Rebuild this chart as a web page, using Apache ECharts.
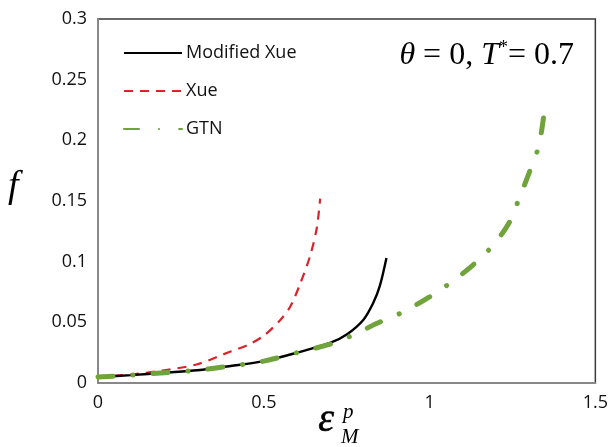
<!DOCTYPE html>
<html><head><meta charset="utf-8">
<script src="https://cdn.jsdelivr.net/npm/echarts@6/dist/echarts.min.js"></script>
<style>html,body{margin:0;padding:0;background:#fff}#c{width:611px;height:447px}</style>
</head><body><div id="c"></div>
<script>
const modXueX = [0,0.1,0.2,0.3,0.4,0.5,0.6,0.7,0.75,0.8,0.83,0.85,0.87];
const modXueY = [0.005,0.0065,0.0085,0.0105,0.014,0.018,0.025,0.033,0.040,0.052,0.066,0.08,0.103];
const xueX = [0,0.1,0.2,0.3,0.4,0.45,0.5,0.55,0.58,0.61,0.64,0.66,0.67];
const xueY = [0.005,0.007,0.0105,0.0155,0.026,0.031,0.039,0.052,0.063,0.082,0.105,0.128,0.152];
const gtnX = [0,0.1,0.2,0.3,0.4,0.5,0.6,0.7,0.77,0.84,0.92,1.0,1.06,1.13,1.19,1.24,1.27,1.3,1.33,1.347];
const gtnY = [0.005,0.0065,0.0085,0.0105,0.014,0.018,0.025,0.032,0.0396,0.049,0.0585,0.071,0.082,0.097,0.113,0.132,0.152,0.173,0.196,0.226];
const xTicks = ['0','0.5','1','1.5'];
const yTicks = ['0','0.05','0.1','0.15','0.2','0.25','0.3'];
const seriesNames = ['Modified Xue','Xue','GTN'];

const zip = (xs, ys) => xs.map((x, i) => [x, ys[i]]);
const font = '"Open Sans", Lato, sans-serif';
const serif = '"Liberation Serif", "DejaVu Serif", serif';
const chart = echarts.init(document.getElementById('c'), null, {renderer:'canvas'});
chart.setOption({
  animation: false,
  grid: {left: 98, right: 14, top: 19, bottom: 64, show: true, borderColor: '#3a3a3a', borderWidth: 1.5},
  legend: {
    left: 118, top: 39, orient: 'vertical', itemWidth: 58, itemHeight: 20, itemGap: 20,
    data: seriesNames,
    itemStyle: {opacity: 0},
    textStyle: {fontFamily: font, fontSize: 18, color: '#111', padding: [0,0,0,-1]}
  },
  xAxis: {
    type: 'value', min: 0, max: 1.5, interval: 0.5,
    axisLine: {show: true, lineStyle: {color: '#888', width: 2}},
    axisTick: {show: false}, splitLine: {show: false},
    axisLabel: {fontFamily: font, fontSize: 18, color: '#111', margin: 11,
      formatter: v => xTicks[Math.round(v / 0.5)]}
  },
  yAxis: {
    type: 'value', min: 0, max: 0.3, interval: 0.05,
    axisLine: {show: true, lineStyle: {color: '#888', width: 2}},
    axisTick: {show: false}, splitLine: {show: false},
    axisLabel: {fontFamily: font, fontSize: 18, color: '#111', margin: 11,
      formatter: v => yTicks[Math.round(v / 0.05)]}
  },
  series: [
    {name: seriesNames[0], type: 'line', data: zip(modXueX, modXueY), smooth: 0.3, symbol: 'none',
      lineStyle: {color: '#000', width: 2.4}, itemStyle: {color: '#000'}, z: 3},
    {name: seriesNames[1], type: 'line', data: zip(xueX, xueY), smooth: 0.3, symbol: 'none',
      lineStyle: {color: '#d9232a', width: 2.2, type: [9, 7]}, itemStyle: {color: '#d9232a'}, z: 2},
    {name: seriesNames[2], type: 'line', data: zip(gtnX, gtnY), smooth: 0.3, symbol: 'none',
      lineStyle: {color: '#70a33b', width: 5, type: [15, 20, 0.1, 20], cap: 'round'}, itemStyle: {color: '#70a33b'}, z: 4}
  ],
  graphic: [
    {type: 'text', right: 37, top: 39, style: {
      text: '{i|θ}{n| = 0, }{i|T}{s|*}{n|= 0.7}',
      rich: {
        i: {fontFamily: serif, fontStyle: 'italic', fontSize: 32, fill: '#000'},
        n: {fontFamily: serif, fontSize: 32, fill: '#000'},
        s: {fontFamily: serif, fontSize: 18, fill: '#000', verticalAlign: 'top', padding: [0,0,16,0]}
      }}},
    {type: 'text', left: 8, top: 168, style: {text: 'f', fontFamily: serif, fontStyle: 'italic', fontSize: 38, fill: '#000'}},
    {type: 'text', left: 318, top: 400, style: {text: 'ε', fontFamily: serif, fontStyle: 'italic', fontSize: 40, fill: '#000', stroke: '#000', lineWidth: 0.6}},
    {type: 'text', left: 343, top: 402, style: {text: 'p', fontFamily: serif, fontStyle: 'italic', fontSize: 21, fill: '#000'}},
    {type: 'text', left: 341, top: 427, style: {text: 'M', fontFamily: serif, fontStyle: 'italic', fontSize: 21, fill: '#000'}}
  ]
});
</script></body></html>
